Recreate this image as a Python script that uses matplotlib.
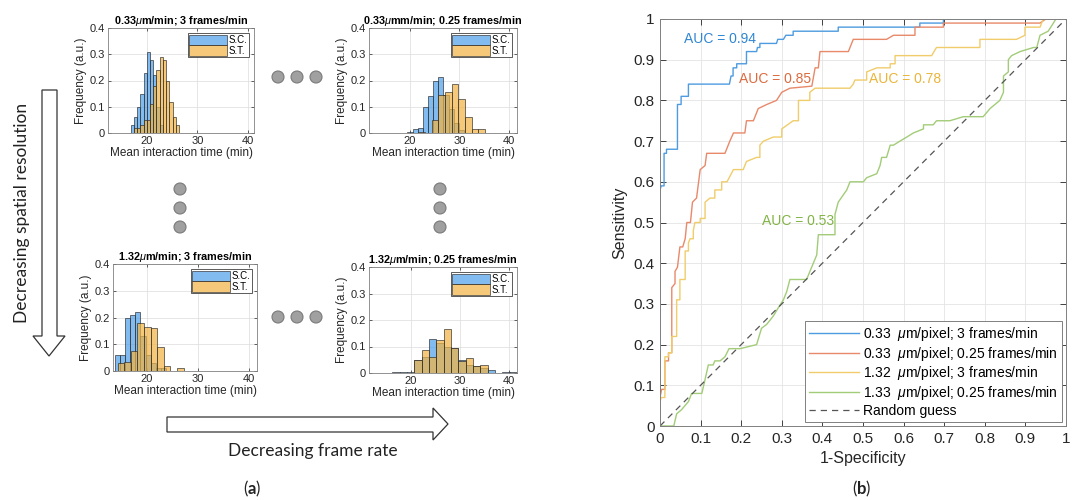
import numpy as np
import matplotlib
matplotlib.use("Agg")
import matplotlib.pyplot as plt
from matplotlib.patches import Polygon, Circle

plt.rcParams['font.family'] = ['Liberation Sans', 'DejaVu Sans']
plt.rcParams['mathtext.fontset'] = 'custom'
plt.rcParams['mathtext.rm'] = 'Liberation Sans'
plt.rcParams['mathtext.it'] = 'Liberation Sans:italic'
plt.rcParams['mathtext.bf'] = 'Lato:bold'

# ---------------- data: histograms ----------------
hist_titles = [r"0.33$\mu$m/min; 3 frames/min",
               r"0.33$\mu$mm/min; 0.25 frames/min",
               r"1.32$\mu$m/min; 3 frames/min",
               r"1.32$\mu$m/min; 0.25 frames/min"]
series_names = ["S.C.", "S.T."]

# panel 1
p1_sc_start, p1_sc_width = 16.78, 0.64
p1_sc = [0.03, 0.06, 0.10, 0.15, 0.23, 0.31, 0.28, 0.22, 0.10, 0.03]
p1_st_start, p1_st_width = 17.42, 0.64
p1_st = [0.02, 0.02, 0.03, 0.05, 0.05, 0.11, 0.18, 0.24, 0.29, 0.28, 0.20, 0.12, 0.06, 0.03]
# panel 2
p2_sc_start, p2_sc_width = 19.5, 1.04
p2_sc = [0.005, 0.015, 0.02, 0.10, 0.14, 0.20, 0.215, 0.145, 0.09, 0.04, 0.01]
p2_st_start, p2_st_width = 21.7, 1.35
p2_st = [0.005, 0.0, 0.05, 0.145, 0.155, 0.185, 0.13, 0.06, 0.015, 0.015]
# panel 3
p3_sc_start, p3_sc_width = 13.7, 1.0
p3_sc = [0.06, 0.06, 0.20, 0.21, 0.22, 0.13, 0.06, 0.03, 0.01, 0.01]
p3_st_start, p3_st_width = 14.2, 1.3
p3_st = [0.03, 0.035, 0.075, 0.18, 0.165, 0.16, 0.09, 0.02, 0.0, 0.01]
# panel 4
p4_sc_start, p4_sc_width = 14.7, 1.5
p4_sc = [0.0, 0.002, 0.002, 0.005, 0.05, 0.06, 0.13, 0.115, 0.10, 0.095, 0.05,
         0.03, 0.025, 0.02, 0.01, 0.0, 0.005, 0.005]
p4_st_start, p4_st_width = 20.7, 1.5
p4_st = [0.05, 0.085, 0.06, 0.125, 0.165, 0.095, 0.045, 0.055, 0.025, 0.03]

hist_xlims = [(12.3, 41.2), (11.7, 41.7), (13.3, 41.6), (11.4, 41.7)]
hist_xticks = [20, 30, 40]
hist_yticks = [0, 0.1, 0.2, 0.3, 0.4]
hist_ytick_labels = ["0", "0.1", "0.2", "0.3", "0.4"]

# ---------------- data: ROC ----------------
fpr_1 = [0, 0, 0.003, 0.01, 0.01, 0.016, 0.016, 0.043, 0.043, 0.052, 0.052, 0.07, 0.07,
         0.171, 0.175, 0.18, 0.18, 0.189, 0.189, 0.213, 0.213, 0.238, 0.24, 0.246, 0.246,
         0.287, 0.29, 0.304, 0.31, 0.328, 0.328, 0.439, 0.439, 0.64, 0.64, 0.698, 0.698, 1.0]
tpr_1 = [0, 0.58, 0.59, 0.59, 0.67, 0.67, 0.68, 0.68, 0.79, 0.79, 0.81, 0.81, 0.84,
         0.84, 0.86, 0.86, 0.88, 0.88, 0.89, 0.89, 0.92, 0.92, 0.93, 0.93, 0.94,
         0.94, 0.95, 0.95, 0.96, 0.96, 0.97, 0.97, 0.98, 0.98, 0.99, 0.99, 1.0, 1.0]

fpr_2 = [0, 0, 0.004, 0.012, 0.012, 0.021, 0.021, 0.029, 0.029, 0.037, 0.037, 0.043,
         0.049, 0.056, 0.062, 0.066, 0.075, 0.08, 0.09, 0.099, 0.111, 0.115, 0.131,
         0.16, 0.168, 0.172, 0.181, 0.209, 0.213, 0.23, 0.242, 0.263, 0.287, 0.30,
         0.32, 0.374, 0.382, 0.39, 0.394, 0.464, 0.476, 0.558, 0.575, 0.628, 0.628,
         0.698, 0.698, 0.936, 0.95, 1.0]
tpr_2 = [0, 0.07, 0.09, 0.09, 0.16, 0.16, 0.18, 0.18, 0.34, 0.35, 0.38, 0.39,
         0.44, 0.44, 0.46, 0.50, 0.50, 0.55, 0.56, 0.63, 0.64, 0.67, 0.67,
         0.67, 0.69, 0.70, 0.72, 0.72, 0.75, 0.75, 0.78, 0.79, 0.80, 0.82,
         0.83, 0.835, 0.88, 0.88, 0.92, 0.92, 0.95, 0.95, 0.96, 0.96, 0.98,
         0.98, 0.99, 0.99, 1.0, 1.0]

fpr_3 = [0, 0, 0.003, 0.012, 0.012, 0.021, 0.021, 0.029, 0.029, 0.041, 0.041, 0.049,
         0.049, 0.062, 0.062, 0.07, 0.07, 0.074, 0.082, 0.082, 0.086, 0.099, 0.099,
         0.111, 0.111, 0.123, 0.135, 0.135, 0.152, 0.152, 0.165, 0.181, 0.205, 0.213,
         0.238, 0.246, 0.246, 0.255, 0.279, 0.30, 0.30, 0.328, 0.341, 0.341, 0.369,
         0.369, 0.382, 0.468, 0.476, 0.48, 0.509, 0.509, 0.534, 0.567, 0.567, 0.579,
         0.579, 0.669, 0.681, 0.788, 0.788, 0.878, 0.899, 0.899, 0.936, 0.944, 1.0]
tpr_3 = [0, 0.06, 0.07, 0.07, 0.17, 0.17, 0.18, 0.18, 0.22, 0.22, 0.31, 0.31,
         0.36, 0.36, 0.43, 0.43, 0.45, 0.46, 0.46, 0.48, 0.50, 0.50, 0.51,
         0.51, 0.55, 0.56, 0.56, 0.58, 0.58, 0.60, 0.60, 0.63, 0.63, 0.65,
         0.66, 0.66, 0.69, 0.70, 0.71, 0.71, 0.73, 0.75, 0.75, 0.80, 0.80,
         0.82, 0.83, 0.83, 0.84, 0.85, 0.85, 0.87, 0.88, 0.88, 0.89, 0.89,
         0.91, 0.91, 0.93, 0.93, 0.95, 0.95, 0.96, 0.98, 0.98, 1.0, 1.0]

fpr_4 = [0, 0.034, 0.041, 0.053, 0.07, 0.078, 0.103, 0.11, 0.119, 0.131, 0.135, 0.148,
         0.16, 0.17, 0.197, 0.238, 0.25, 0.263, 0.271, 0.279, 0.291, 0.304, 0.312,
         0.32, 0.361, 0.386, 0.39, 0.431, 0.431, 0.439, 0.46, 0.468, 0.501, 0.509,
         0.534, 0.542, 0.546, 0.558, 0.567, 0.575, 0.591, 0.608, 0.624, 0.649, 0.649,
         0.673, 0.681, 0.714, 0.747, 0.796, 0.813, 0.837, 0.846, 0.846, 0.858, 0.858,
         0.866, 0.887, 0.92, 0.928, 0.936, 0.956, 0.969, 0.975, 1.0]
tpr_4 = [0, 0, 0.03, 0.04, 0.06, 0.08, 0.08, 0.11, 0.15, 0.15, 0.16, 0.16,
         0.17, 0.19, 0.19, 0.20, 0.24, 0.25, 0.26, 0.27, 0.29, 0.31, 0.33,
         0.36, 0.36, 0.42, 0.47, 0.47, 0.52, 0.55, 0.58, 0.60, 0.60, 0.61,
         0.62, 0.64, 0.66, 0.66, 0.69, 0.69, 0.70, 0.71, 0.72, 0.73, 0.74,
         0.74, 0.75, 0.75, 0.76, 0.76, 0.78, 0.80, 0.82, 0.86, 0.87, 0.90,
         0.91, 0.92, 0.93, 0.93, 0.96, 0.97, 0.99, 1.0, 1.0]

roc_labels = [r"0.33  $\mu$m/pixel; 3 frames/min",
              r"0.33  $\mu$m/pixel; 0.25 frames/min",
              r"1.32  $\mu$m/pixel; 3 frames/min",
              r"1.33  $\mu$m/pixel; 0.25 frames/min"]
auc_values = [0.94, 0.85, 0.78, 0.53]
auc_pos = [(0.148, 0.95), (0.283, 0.852), (0.604, 0.852), (0.34, 0.504)]
random_label = "Random guess"
ticks01 = [0, 0.1, 0.2, 0.3, 0.4, 0.5, 0.6, 0.7, 0.8, 0.9, 1.0]
tick01_labels = ["0", "0.1", "0.2", "0.3", "0.4", "0.5", "0.6", "0.7", "0.8", "0.9", "1"]

# ---------------- styling ----------------
W, H = 1077, 500
fig = plt.figure(figsize=(W / 100, H / 100), dpi=100)


def rect(x0, y0, x1, y1):
    return [x0 / W, 1 - y1 / H, (x1 - x0) / W, (y1 - y0) / H]


ov = fig.add_axes([0, 0, 1, 1])
ov.set_xlim(0, W)
ov.set_ylim(H, 0)
ov.axis('off')

sc_color = (0.30, 0.62, 0.92, 0.70)
st_color = (0.95, 0.70, 0.25, 0.70)
edge_col = (0.15, 0.15, 0.15, 0.75)

panels = [
    (p1_sc_start, p1_sc_width, p1_sc, p1_st_start, p1_st_width, p1_st),
    (p2_sc_start, p2_sc_width, p2_sc, p2_st_start, p2_st_width, p2_st),
    (p3_sc_start, p3_sc_width, p3_sc, p3_st_start, p3_st_width, p3_st),
    (p4_sc_start, p4_sc_width, p4_sc, p4_st_start, p4_st_width, p4_st),
]
hist_rects = [(108, 28, 254, 133), (369, 28, 517, 133),
              (113, 264, 257, 371), (369, 267, 517, 373)]

for i, (ss, sw, sh, ts, tw, th) in enumerate(panels):
    ax = fig.add_axes(rect(*hist_rects[i]))
    sx = ss + sw * np.arange(len(sh))
    tx = ts + tw * np.arange(len(th))
    ax.bar(sx, sh, width=sw, align='edge', color=sc_color, edgecolor=edge_col,
           linewidth=0.6, label=series_names[0], zorder=2)
    ax.bar(tx, th, width=tw, align='edge', color=st_color, edgecolor=edge_col,
           linewidth=0.6, label=series_names[1], zorder=3)
    ax.set_xlim(*hist_xlims[i])
    ax.set_ylim(0, 0.4)
    ax.set_xticks(hist_xticks)
    ax.set_yticks(hist_yticks)
    ax.set_yticklabels(hist_ytick_labels)
    ax.grid(True, color='#dcdcdc', linewidth=0.5, zorder=0)
    ax.set_axisbelow(True)
    ax.tick_params(direction='in', length=2, width=0.5, labelsize=8,
                   top=True, right=True, colors='#262626', pad=2)
    for sp in ax.spines.values():
        sp.set_color('#808080')
        sp.set_linewidth(0.6)
    ax.set_xlabel("Mean interaction time (min)", fontsize=8.5, labelpad=1, color='#262626')
    ax.set_ylabel("Frequency (a.u.)", fontsize=8.5, labelpad=2, color='#262626')
    ax.set_title(hist_titles[i], fontsize=7.8, fontweight='bold', pad=3)
    leg = ax.legend(loc='upper right', fontsize=7, handlelength=3.9, handleheight=1.3,
                    borderpad=0.15, labelspacing=0.0, handletextpad=0.15,
                    borderaxespad=0.55, fancybox=False, framealpha=1)
    leg.get_frame().set_edgecolor('#404040')
    leg.get_frame().set_linewidth(0.6)

# grey dots
for cx, cy in [(278, 77), (297, 77), (316, 77), (278, 317), (297, 317), (316, 317),
               (180, 189), (180, 208), (180, 227), (440, 189), (440, 208), (440, 227)]:
    ov.add_patch(Circle((cx, cy), 6, facecolor='#a0a0a0', edgecolor='#7a7a7a', lw=0.8))

# vertical arrow
varrow = [(42, 90), (57, 90), (57, 336), (65, 336), (49, 356), (33, 336), (42, 336)]
ov.add_patch(Polygon(varrow, closed=True, facecolor='white', edgecolor='#333333', lw=0.9))
ov.text(22, 213, "Decreasing spatial resolution", rotation=90, ha='center', va='center',
        fontsize=12.5, family='Lato', color='#222222')

# horizontal arrow
harrow = [(167, 417), (433, 417), (433, 408), (448, 424), (433, 440), (433, 432), (167, 432)]
ov.add_patch(Polygon(harrow, closed=True, facecolor='white', edgecolor='#333333', lw=0.9))
ov.text(313, 451, "Decreasing frame rate", ha='center', va='center',
        fontsize=12.5, family='Lato', color='#222222')

ov.text(252, 489, r"($\mathbf{a}$)", ha='center', va='center', fontsize=12,
        family='Lato', color='#222222')
ov.text(862, 489, r"($\mathbf{b}$)", ha='center', va='center', fontsize=12,
        family='Lato', color='#222222')

# ROC axes
rax = fig.add_axes(rect(660, 19, 1066, 426))
line_colors = ['#4d9be0', '#e8896a', '#f0cc6a', '#a2cc78']
text_colors = ['#2f86d1', '#dc6a3f', '#e9b53a', '#82b444']
curves = [(fpr_1, tpr_1), (fpr_2, tpr_2), (fpr_3, tpr_3), (fpr_4, tpr_4)]
for (f, t), c, lab in zip(curves, line_colors, roc_labels):
    rax.plot(f, t, color=c, lw=1.0, label=lab)
rax.plot([0, 1], [0, 1], ls=(0, (5, 4)), color='#555555', lw=0.9, label=random_label)
for (x, y), v, c in zip(auc_pos, auc_values, text_colors):
    rax.text(x, y, f"AUC = {v:.2f}", color=c, fontsize=10, ha='center', va='center')
rax.set_xlim(0, 1)
rax.set_ylim(0, 1)
rax.set_xticks(ticks01)
rax.set_yticks(ticks01)
rax.set_xticklabels(tick01_labels)
rax.set_yticklabels(tick01_labels)
rax.grid(True, color='#e4e4e4', linewidth=0.6)
rax.set_axisbelow(True)
rax.tick_params(direction='in', length=4, width=0.6, labelsize=11,
                top=True, right=True, colors='#262626', pad=4)
for sp in rax.spines.values():
    sp.set_color('#808080')
    sp.set_linewidth(0.7)
rax.set_xlabel("1-Specificity", fontsize=11.5, color='#262626', labelpad=4)
rax.set_ylabel("Sensitivity", fontsize=11.5, color='#262626', labelpad=4)
leg = rax.legend(loc='lower right', fontsize=10, handlelength=3.6, borderpad=0.3,
                 labelspacing=0.12, handletextpad=0.3, borderaxespad=0.3,
                 fancybox=False, framealpha=1)
leg.get_frame().set_edgecolor('#808080')
leg.get_frame().set_linewidth(0.7)

fig.savefig("out.png", dpi=100)
